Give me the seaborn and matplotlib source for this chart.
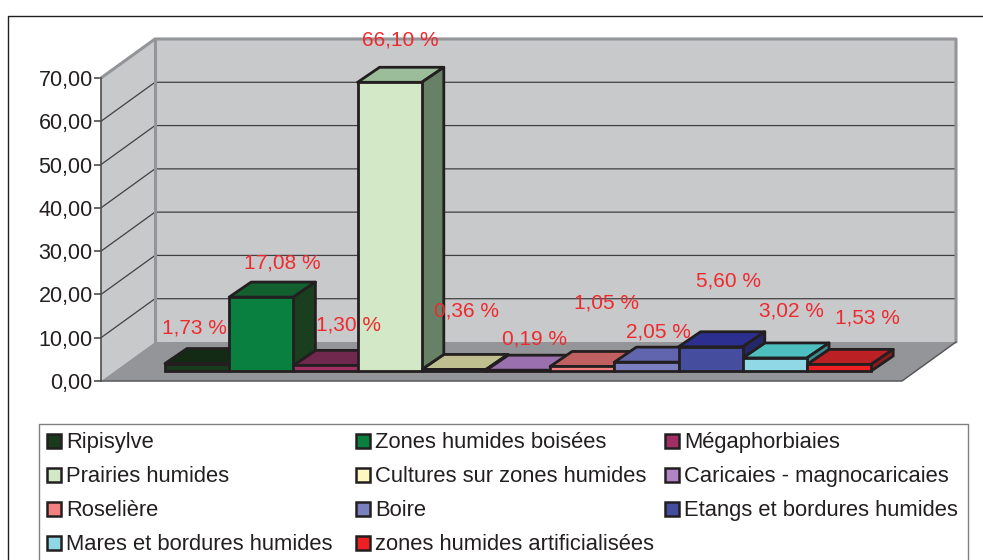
import matplotlib
matplotlib.use("Agg")
import matplotlib.pyplot as plt
from matplotlib.patches import Polygon, Rectangle
from matplotlib.transforms import Affine2D
import pandas as pd
import seaborn as sns

categories = ["Ripisylve", "Zones humides boisées", "Mégaphorbiaies",
              "Prairies humides", "Cultures sur zones humides", "Caricaies - magnocaricaies",
              "Roselière", "Boire", "Etangs et bordures humides",
              "Mares et bordures humides", "zones humides artificialisées"]
values = [1.73, 17.08, 1.30, 66.7, 0.36, 0.19, 1.05, 2.05, 5.60, 3.02, 1.53]
value_labels = ["1,73 %", "17,08 %", "1,30 %", "66,10 %", "0,36 %", "0,19 %",
                "1,05 %", "2,05 %", "5,60 %", "3,02 %", "1,53 %"]
yticks = [0, 10, 20, 30, 40, 50, 60, 70]

front_colors = ["#1a3a1e", "#0a8040", "#a03063", "#d2e8c6", "#fdf7c0", "#b184c4",
                "#f58080", "#7a7fc0", "#454d9f", "#90d8e5", "#ee2024"]
top_colors = ["#132a14", "#13602f", "#70284e", "#9cbd99", "#bfbf90", "#9b70ae",
              "#c06060", "#6165ad", "#2c2f90", "#4dbfbf", "#bb2024"]
side_colors = ["#0f2010", "#1a3f1e", "#50203a", "#668166", "#8f8f6c", "#745483",
               "#904848", "#494c82", "#252868", "#3a8f8f", "#8f1a1c"]

# where the red labels sit, in image pixels
label_pos = [(194, 328), (282, 263), (348, 325), (400, 40), (466, 311), (535, 339),
             (606, 303), (658, 332), (729, 281), (791, 311), (867, 318)]

W, H = 983, 560
EDGE = "#231f20"
WALL = "#c8c9cb"
FLOOR = "#939598"

sns.set_theme(style="white")
plt.rcParams["font.family"] = ["Liberation Sans", "DejaVu Sans"]

fig = plt.figure(figsize=(W / 100, H / 100), dpi=100)
fig.patch.set_facecolor("white")

# axes = front edge of the floor and left wall
ax = fig.add_axes([101 / W, 1 - 381 / H, 801 / W, 303 / H])
ax.patch.set_alpha(0)

# image pixel coordinates (y down)
px = Affine2D().scale(1 / W, -1 / H).translate(0, 1) + fig.transFigure

df = pd.DataFrame({"category": categories, "value": values})
sns.barplot(data=df, x="category", y="value", hue="category", order=categories,
            hue_order=categories, palette=front_colors, dodge=False, width=1,
            legend=False, saturation=1, edgecolor=EDGE, linewidth=2, ax=ax, zorder=5)

ax.set_xlim(-1.497, 10.98)
ax.set_ylim(0, 70)
ax.set_xlabel("")
ax.set_ylabel("")
ax.set_xticks([])
ax.set_yticks(yticks)
ax.set_yticklabels(["%d,00" % t for t in yticks], fontsize=15.5, color=EDGE)
ax.tick_params(axis="y", length=5, width=1.2, color="#4d4d4d", left=True, pad=1)
for s in ["top", "right", "bottom"]:
    ax.spines[s].set_visible(False)
ax.spines["left"].set_color("#4d4d4d")
ax.spines["left"].set_linewidth(1.2)
ax.spines["left"].set_zorder(2)

# depth of the box and of the bars, pixels turned into data units
xunit = 1 / 64.2
yunit = 70 / 303
box_dx, box_dy = 54 * xunit, 39 * yunit
bar_dx, bar_dy = 22 * xunit, 15 * yunit
base = 10 * yunit


def face(points, **kw):
    ax.add_patch(Polygon(points, closed=True, clip_on=False, **kw))


x0, x1 = ax.get_xlim()
# walls and floor
face([(x0, 70), (x0 + box_dx, 70 + box_dy), (x0 + box_dx, box_dy), (x0, 0)],
     facecolor=WALL, edgecolor="none", zorder=0.5)
face([(x0 + box_dx, box_dy), (x1 + box_dx, box_dy), (x1 + box_dx, 70 + box_dy), (x0 + box_dx, 70 + box_dy)],
     facecolor=WALL, edgecolor="none", zorder=0.5)
face([(x0, 0), (x0 + box_dx, box_dy), (x1 + box_dx, box_dy), (x1, 0)],
     facecolor=FLOOR, edgecolor="none", zorder=0.6)

# grid, on left wall and back wall
for t in yticks[1:]:
    ax.plot([x0, x0 + box_dx, x1 + box_dx], [t, t + box_dy, t + box_dy], color="#414042",
            lw=0.9, clip_on=False, zorder=0.8)
# wall borders
ax.plot([x0, x0 + box_dx, x1 + box_dx, x1 + box_dx], [70, 70 + box_dy, 70 + box_dy, box_dy],
        color=FLOOR, lw=2.2, clip_on=False, zorder=0.9)
ax.plot([x0 + box_dx, x0 + box_dx], [70 + box_dy, box_dy], color=FLOOR, lw=2.2, clip_on=False, zorder=0.9)
ax.plot([x0, x1, x1 + box_dx], [0, 0, box_dy], color="#58595b", lw=1.1, clip_on=False, zorder=1)

# top and side faces; a side only shows above the next bar
n = len(categories)
for i, bar in enumerate(ax.patches[:n]):
    bar.set_y(base)
    left = bar.get_x()
    right = left + bar.get_width()
    top = base + bar.get_height()
    next_h = values[i + 1] if i + 1 < n else 0
    face([(left, top), (right, top), (right + bar_dx, top + bar_dy), (left + bar_dx, top + bar_dy)],
         facecolor=top_colors[i], edgecolor=EDGE, lw=2, joinstyle="round", zorder=3)
    if next_h < bar.get_height():
        low = base + next_h
        face([(right, low), (right, top), (right + bar_dx, top + bar_dy), (right + bar_dx, low + bar_dy)],
             facecolor=side_colors[i], edgecolor=EDGE, lw=2, joinstyle="round", zorder=3.5)

# value labels
for lab, (lx, ly) in zip(value_labels, label_pos):
    ax.text(lx, ly, lab, transform=px, color="#ee2a2e", fontsize=15, ha="center", va="center",
            clip_on=False, zorder=8)

# chart frame
fig.add_artist(plt.Line2D([8, 8, 983], [560, 16, 16], transform=px, color=EDGE, lw=1))

# legend box, filled row by row, runs off the bottom of the picture
fig.add_artist(plt.Line2D([39, 39, 968, 968], [560, 424, 424, 560], transform=px, color="#808080", lw=1))
col_x = [47, 356, 665]
row_y = [442, 476, 510, 544]
for i, name in enumerate(categories):
    cx = col_x[i % 3]
    cy = row_y[i // 3]
    fig.add_artist(Rectangle((cx, cy - 8), 14, 14, transform=px, facecolor=front_colors[i],
                             edgecolor=EDGE, lw=1.8))
    fig.text(cx + 19, cy + 6, name, transform=px, fontsize=15.8, color=EDGE, va="baseline", ha="left")

fig.savefig("out.png", dpi=100)
